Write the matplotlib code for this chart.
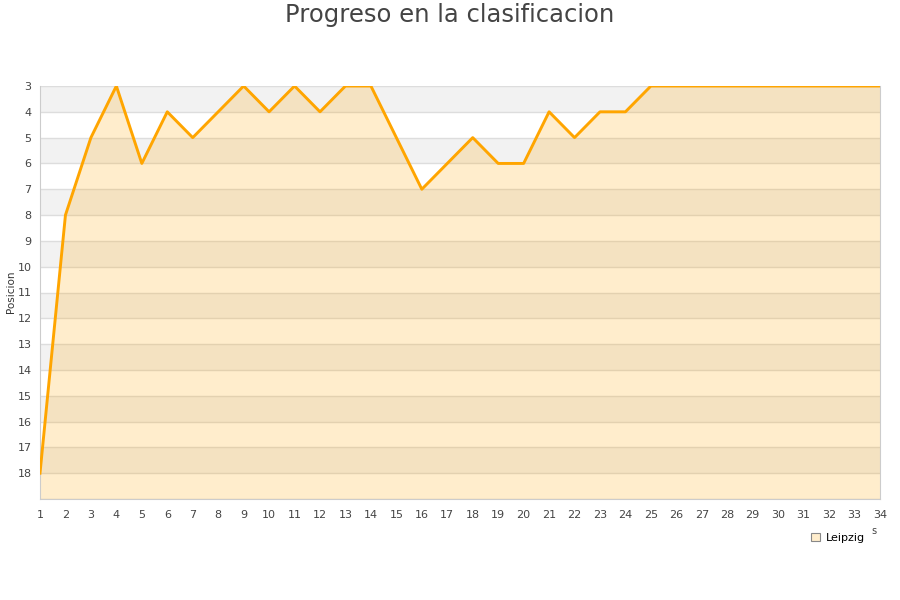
import numpy as np
import matplotlib
matplotlib.use("Agg")
import matplotlib.pyplot as plt
from matplotlib.patches import Patch

jornadas = list(range(1, 35))
posicion = [18, 8, 5, 3, 6, 4, 5, 4, 3, 4, 3, 4, 3, 3, 5, 7, 6, 5, 6, 6,
            4, 5, 4, 4, 3, 3, 3, 3, 3, 3, 3, 3, 3, 3]
y_ticks = list(range(3, 19))
team = "Leipzig"

fig = plt.figure(figsize=(9, 6), dpi=100)
ax = fig.add_axes([40 / 900, 1 - 499 / 600, 840 / 900, 413 / 600])

# alternating row bands
for i, y in enumerate(range(3, 19)):
    if i % 2 == 0:
        ax.axhspan(y, y + 1, color="#f2f2f2", zorder=0, lw=0)
for y in range(3, 20):
    ax.axhline(y, color="#dddddd", lw=1, zorder=1)

ax.fill_between(jornadas, posicion, 19, color="#ffa500", alpha=0.2, lw=0, zorder=2)
ax.plot(jornadas, posicion, color="#ffa500", lw=2.1, zorder=3)

ax.set_xlim(1, 34)
ax.set_ylim(19, 3)
ax.set_xticks(jornadas)
ax.set_yticks(y_ticks)
ax.tick_params(labelsize=8, colors="#444444", length=0, pad=6)
ax.tick_params(axis="x", pad=8)
for s in ax.spines.values():
    s.set_color("#cccccc")
ax.spines["top"].set_visible(False)

fig.text(11 / 900, 1 - 292 / 600, "Posicion", rotation=90, ha="center", va="center",
         fontsize=7.5, color="#333333")
fig.text(0.5, 1 - 15 / 600, "Progreso en la clasificacion", ha="center", va="center",
         fontsize=17.5, color="#444444")
fig.text(874 / 900, 1 - 531 / 600, "s", ha="center", va="center", fontsize=7, color="#444444")

handle = Patch(facecolor="#ffedcc", edgecolor="#888888", lw=0.8)
fig.legend([handle], [team], loc="center", bbox_to_anchor=(838 / 900, 1 - 538 / 600),
           frameon=False, fontsize=8, handlelength=0.8, handleheight=0.8, handletextpad=0.6)

fig.savefig("out.png", dpi=100)
